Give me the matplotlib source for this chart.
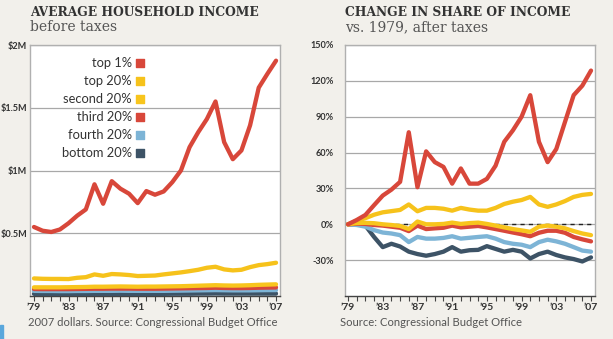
import matplotlib
matplotlib.use("Agg")
import matplotlib.pyplot as plt
from matplotlib.patches import Rectangle
import numpy as np

years = np.arange(1979, 2008)

# average household income before taxes, millions of 2007 dollars
inc_top1 = [0.55, 0.52, 0.51, 0.53, 0.58, 0.64, 0.69, 0.89, 0.735, 0.915, 0.855, 0.815,
            0.74, 0.836, 0.807, 0.833, 0.907, 1.0, 1.186, 1.305, 1.41, 1.55, 1.226, 1.09,
            1.16, 1.36, 1.66, 1.77, 1.875]
inc_top20 = [0.14, 0.137, 0.136, 0.136, 0.135, 0.145, 0.15, 0.172, 0.161, 0.175, 0.172, 0.167,
             0.159, 0.161, 0.163, 0.172, 0.18, 0.188, 0.198, 0.209, 0.225, 0.233, 0.212, 0.204,
             0.209, 0.23, 0.246, 0.254, 0.265]
inc_second = [0.069, 0.069, 0.069, 0.069, 0.07, 0.071, 0.072, 0.074, 0.074, 0.075, 0.076, 0.075,
              0.074, 0.075, 0.075, 0.076, 0.077, 0.078, 0.08, 0.082, 0.084, 0.086, 0.084, 0.083,
              0.084, 0.086, 0.089, 0.091, 0.093]
inc_third = [0.056, 0.055, 0.055, 0.055, 0.055, 0.056, 0.057, 0.058, 0.058, 0.059, 0.059, 0.059,
             0.058, 0.058, 0.058, 0.059, 0.06, 0.061, 0.062, 0.063, 0.064, 0.066, 0.064, 0.063,
             0.063, 0.064, 0.066, 0.067, 0.068]
inc_fourth = [0.041, 0.04, 0.04, 0.039, 0.039, 0.04, 0.04, 0.041, 0.041, 0.041, 0.042, 0.041,
              0.041, 0.041, 0.041, 0.041, 0.042, 0.043, 0.044, 0.045, 0.046, 0.047, 0.046, 0.045,
              0.045, 0.045, 0.046, 0.047, 0.047]
inc_bottom = [0.017, 0.017, 0.016, 0.016, 0.016, 0.016, 0.016, 0.016, 0.016, 0.016, 0.017, 0.017,
              0.017, 0.017, 0.017, 0.017, 0.018, 0.018, 0.018, 0.019, 0.019, 0.02, 0.019, 0.019,
              0.019, 0.019, 0.019, 0.019, 0.019]

# change in share of after-tax income vs. 1979, percent
chg_top1 = [0, 3.6, 7.8, 16, 24, 29, 35.5, 77, 31, 61, 52, 48, 34, 46.7, 34, 34, 38, 49, 69,
            78.6, 90, 108, 69, 52, 63, 85.6, 108, 116, 128.6]
chg_top20 = [0, 2.9, 5.1, 8, 10, 11, 12, 16.6, 10.9, 13.7, 13.7, 13, 11.4, 13.7, 12.3, 11.4,
             11.4, 13.7, 17, 18.9, 20.3, 22.9, 16.6, 14.6, 16.6, 19.4, 22.9, 24.6, 25.4]
chg_second = [0, 1, 1.2, 0.9, 0, -0.6, -1.4, -4, 2.3, 0, 0, 0.3, 1.4, 0.3, 1, 1.4, 0.3, -1.1,
              -2.6, -4, -5.1, -6.3, -2, -1.1, -2, -3.4, -5.7, -7.7, -9.1]
chg_third = [0, 0.5, 0.3, -0.6, -1.1, -2, -2.9, -5.7, -1.1, -4, -3.4, -2.9, -1.1, -2.6, -2,
             -1.4, -2.6, -4, -5.4, -6.9, -8.3, -10, -7.1, -5.4, -5.4, -7.1, -10.6, -12.6, -14.3]
chg_fourth = [0, -0.6, -2, -4.9, -6.9, -7.7, -9.1, -14.9, -10.6, -12, -12, -11.4, -10, -12,
              -11.3, -10.6, -10, -12, -14.9, -16.3, -17.1, -19.1, -14.9, -12.9, -14.3, -16.3,
              -19.1, -22, -22.9]
chg_bottom = [0, 0, -1.1, -10.6, -19.1, -16.3, -18.6, -22.9, -24.9, -26.3, -24.9, -22.9, -19.1,
              -22.9, -21.7, -21.4, -18.3, -20.6, -22.9, -21.4, -22.9, -28.6, -24.9, -22.9, -25.7,
              -27.7, -29.1, -31.1, -27.7]

group_labels = ["top 1%", "top 20%", "second 20%", "third 20%", "fourth 20%", "bottom 20%"]
group_colors = ["#d8473a", "#f6c21b", "#f8c51d", "#d8473a", "#7db4d6", "#3d5366"]

year_ticks = np.arange(1979, 2008, 4)
year_labels = ["\u2019" + str(y)[2:] for y in year_ticks]

inc_ticks = [0.5, 1.0, 1.5, 2.0]
inc_labels = ["$0.5M", "$1M", "$1.5M", "$2M"]
chg_ticks = [-30, 0, 30, 60, 90, 120, 150]
chg_labels = ["-30%", "0%", "30%", "60%", "90%", "120%", "150%"]

bg = "#f2f0eb"
dark = "#333333"
sans = ["Lato", "DejaVu Sans"]
serif = ["DejaVu Serif"]

fig = plt.figure(figsize=(6.13, 3.39), dpi=100)
fig.patch.set_facecolor(bg)

ax1 = fig.add_axes([30 / 613, 43 / 339, 250 / 613, 251 / 339])
ax2 = fig.add_axes([345 / 613, 43 / 339, 250 / 613, 251 / 339])


def style_axis(ax, xlim, ylim, yticks, ylabels, ypad):
    ax.set_facecolor("white")
    ax.set_xlim(*xlim)
    ax.set_ylim(*ylim)
    ax.set_xticks(year_ticks)
    ax.set_xticklabels(year_labels, fontsize=7.5, fontweight="bold", color=dark, family=sans)
    ax.set_xticks(years, minor=True)
    ax.tick_params(axis="x", which="both", direction="out", length=3.5, width=0.8,
                   color="#444444", pad=1.5)
    ax.set_yticks(yticks)
    ax.set_yticklabels(ylabels, fontsize=6.6, fontweight="bold", color=dark, family=sans)
    ax.tick_params(axis="y", length=0, pad=ypad)
    ax.grid(axis="y", color="#a8a8a8", lw=0.9, zorder=1)
    for side in ["top", "left", "right"]:
        ax.spines[side].set_color("#b0b0b0")
        ax.spines[side].set_linewidth(1.0)
    ax.spines["bottom"].set_color("#444444")
    ax.spines["bottom"].set_linewidth(1.0)


# left panel: average income
style_axis(ax1, (1978.54, 2007.46), (0, 2.0), inc_ticks, inc_labels, 2)
inc_series = [inc_top1, inc_top20, inc_second, inc_third, inc_fourth, inc_bottom]
for vals, col in reversed(list(zip(inc_series, group_colors))):
    ax1.plot(years, vals, color=col, lw=3.1, solid_capstyle="round", zorder=3)

# legend: labels right-aligned, colour squares to the right
for i, (lab, col) in enumerate(zip(group_labels, group_colors)):
    y = 0.928 - i * 0.0717
    ax1.text(0.408, y, lab, transform=ax1.transAxes, ha="right", va="center",
             fontsize=9.3, color=dark, family=sans)
    ax1.scatter([0.44], [y], transform=ax1.transAxes, marker="s", s=30, color=col,
                zorder=4, clip_on=False)

# right panel: change in share
style_axis(ax2, (1978.65, 2007.46), (-60, 150), chg_ticks, chg_labels, 8)
ax2.axhline(0, color="#222222", lw=1.0, ls=(0, (3, 3)), zorder=2)
chg_series = [chg_top1, chg_top20, chg_second, chg_third, chg_fourth, chg_bottom]
for vals, col in reversed(list(zip(chg_series, group_colors))):
    ax2.plot(years, vals, color=col, lw=3.1, solid_capstyle="round", zorder=3)

# headings
fig.text(30 / 613, 1 - 12 / 339, "AVERAGE HOUSEHOLD INCOME", fontsize=8.8, fontweight="bold",
         family=serif, color=dark, va="center")
fig.text(30 / 613, 1 - 27 / 339, "before taxes", fontsize=10, family=serif, color="#555555",
         va="center")
fig.text(345 / 613, 1 - 12 / 339, "CHANGE IN SHARE OF INCOME", fontsize=8.8, fontweight="bold",
         family=serif, color=dark, va="center")
fig.text(345 / 613, 1 - 27 / 339, "vs. 1979, after taxes", fontsize=10, family=serif,
         color="#555555", va="center")

# sources
fig.text(28 / 613, 1 - 322 / 339, "2007 dollars. Source: Congressional Budget Office",
         fontsize=8.1, family=sans, color="#555555", va="center")
fig.text(340 / 613, 1 - 322 / 339, "Source: Congressional Budget Office",
         fontsize=8.1, family=sans, color="#555555", va="center")

fig.patches.append(Rectangle((0, 0), 3 / 613, 14 / 339, transform=fig.transFigure,
                             color="#5aa7dc", zorder=5))

fig.savefig("out.png", dpi=100, facecolor=bg)
